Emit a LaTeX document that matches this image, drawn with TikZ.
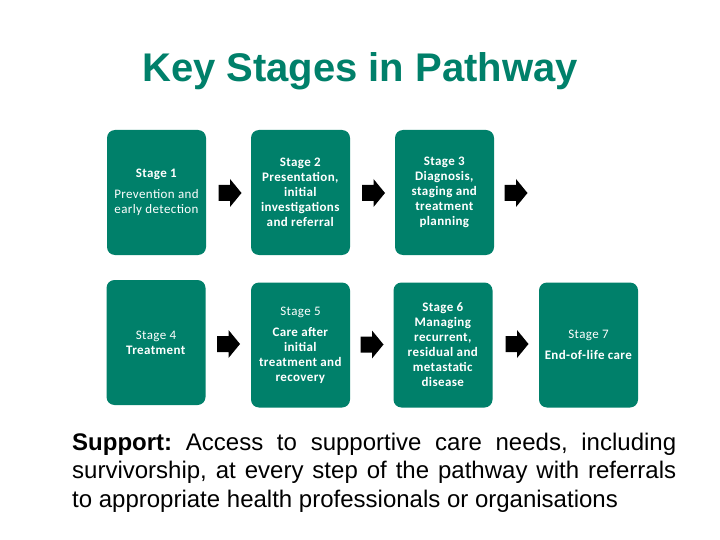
\documentclass[tikz,border=0pt]{standalone}
\usepackage{fontspec}
\setmainfont{Liberation Sans}
\newfontfamily\boxfont[LetterSpace=3]{Carlito}
\hyphenpenalty=10000
\exhyphenpenalty=10000
\frenchspacing
\definecolor{teal1}{RGB}{0,128,106}
\begin{document}
\begin{tikzpicture}[x=1pt,y=-1pt,
  stagebox/.style={fill=teal1, rounded corners=8pt, minimum width=99pt, minimum height=125pt,
    text=white, align=center, inner sep=0pt, font=\boxfont\fontsize{13}{15}\selectfont},
  blockarrow/.pic={\fill[black] (-11.5,-8) -- (0,-8) -- (0,-14) -- (11.5,0) -- (0,14) -- (0,8) -- (-11.5,8) -- cycle;}]
\fill[white] (0,0) rectangle (720,540);
\useasboundingbox (0,0) rectangle (720,540);

\node[font=\bfseries\fontsize{40}{48}\selectfont, text=teal1, anchor=base] (title) at (360,82) {Key Stages in Pathway};

\node[stagebox] (s1) at (156.5,192.5) {\textbf{Stage 1}\\[6pt] Prevention and\\ early detection};
\node[stagebox] (s2) at (300.5,192.5) {\textbf{Stage 2}\\ \textbf{Presentation,}\\ \textbf{initial}\\ \textbf{investigations}\\ \textbf{and referral}};
\node[stagebox] (s3) at (444.5,192.5) {\textbf{Stage 3}\\ \textbf{Diagnosis,}\\ \textbf{staging and}\\ \textbf{treatment}\\ \textbf{planning}};

\node[stagebox] (s4) at (156,342.5) {Stage 4\\ \textbf{Treatment}};
\node[stagebox] (s5) at (300.5,345) {Stage 5\\[6pt] \textbf{Care after}\\ \textbf{initial}\\ \textbf{treatment and}\\ \textbf{recovery}};
\node[stagebox] (s6) at (443,345) {\textbf{Stage 6}\\ \textbf{Managing}\\ \textbf{recurrent,}\\ \textbf{residual and}\\ \textbf{metastatic}\\ \textbf{disease}};
\node[stagebox] (s7) at (588.5,345) {Stage 7\\[6pt] \textbf{End-of-life care}};

\coordinate (a1) at (230,193);
\coordinate (a2) at (373.5,193);
\coordinate (a3) at (516,193);
\coordinate (a4) at (228.5,344);
\coordinate (a5) at (372,344.5);
\coordinate (a6) at (517,344);
\foreach \a in {a1,a2,a3,a4,a5,a6} \pic at (\a) {blockarrow};

\node[anchor=north west, inner sep=0pt, text width=604pt, align=justify,
  font=\fontsize{24}{28.5}\selectfont] (support) at (72,432.5)
  {\textbf{Support:} Access to supportive care needs, including\linebreak survivorship, at every step of the pathway with referrals\linebreak to appropriate health professionals or organisations};
\end{tikzpicture}
\end{document}
